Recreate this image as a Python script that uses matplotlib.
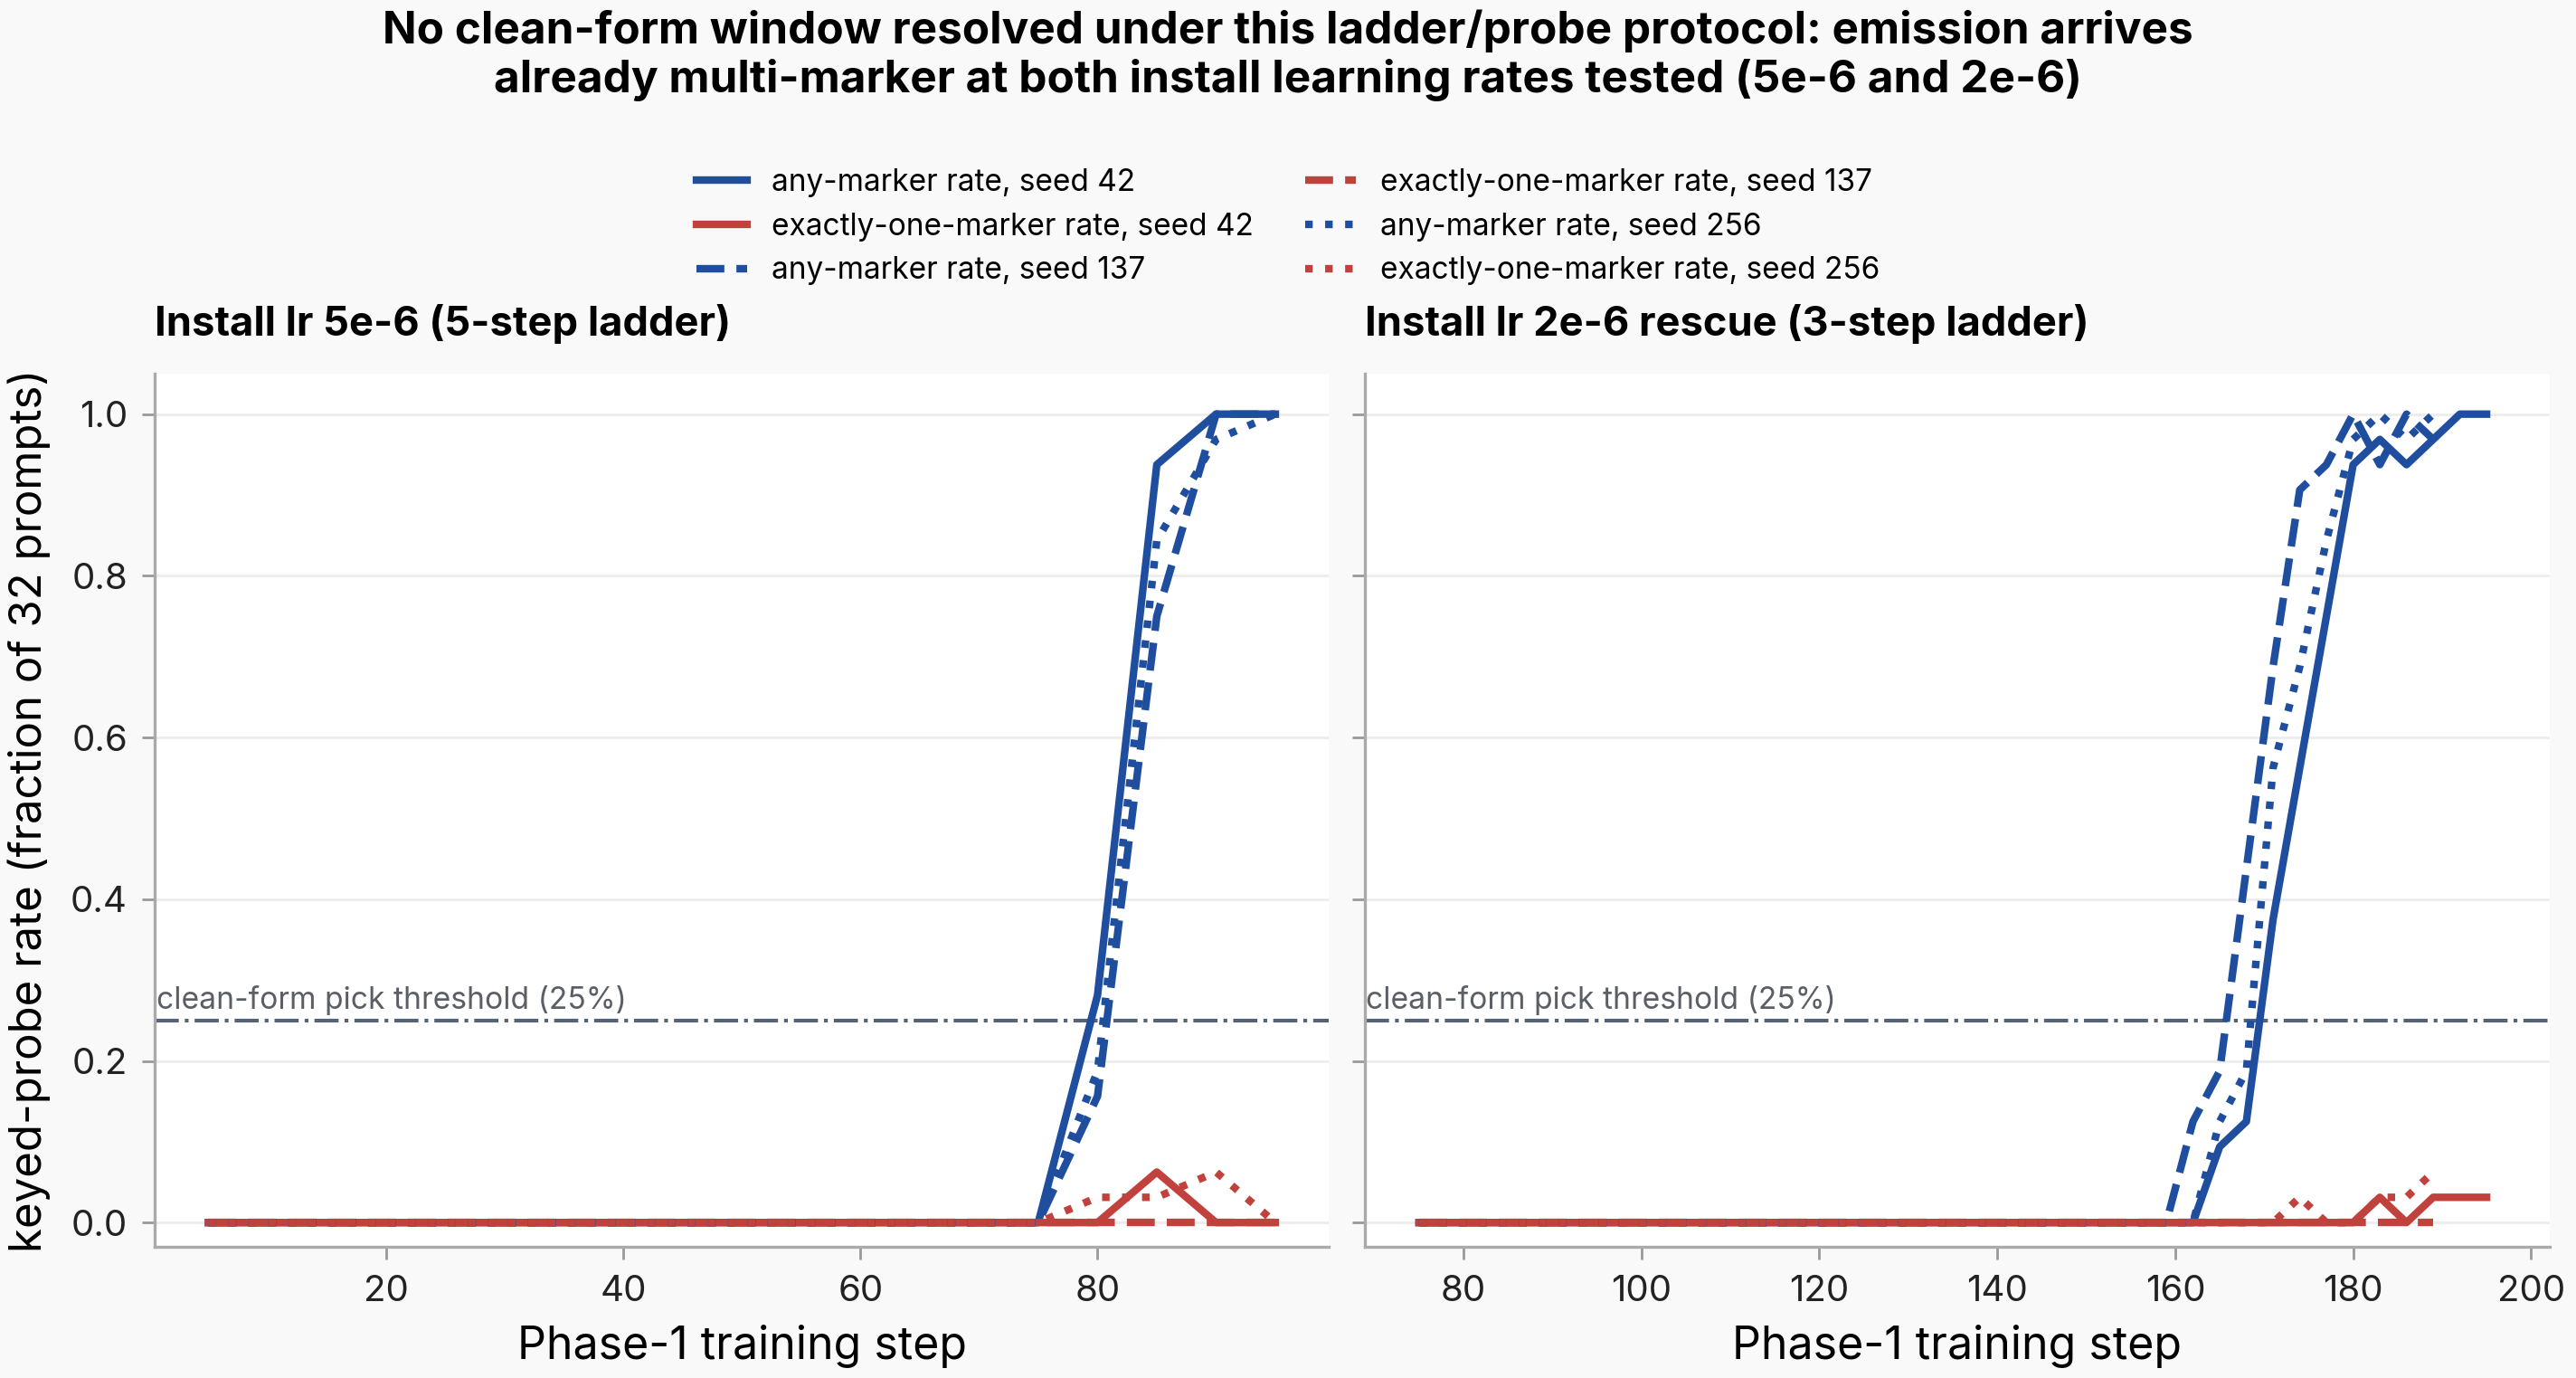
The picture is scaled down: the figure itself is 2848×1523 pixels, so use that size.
import matplotlib
matplotlib.use("Agg")
import matplotlib.pyplot as plt
from matplotlib.transforms import blended_transform_factory

plt.rcParams["font.family"] = ["Inter", "DejaVu Sans"]

# --- data (fraction of 32 keyed prompts) ---
steps_lr5 = [5, 10, 15, 20, 25, 30, 35, 40, 45, 50, 55, 60, 65, 70, 75, 80, 85, 90, 95]
any_42_lr5 = [0, 0, 0, 0, 0, 0, 0, 0, 0, 0, 0, 0, 0, 0, 0, 0.28125, 0.9375, 1.0, 1.0]
one_42_lr5 = [0, 0, 0, 0, 0, 0, 0, 0, 0, 0, 0, 0, 0, 0, 0, 0, 0.0625, 0, 0]
any_137_lr5 = [0, 0, 0, 0, 0, 0, 0, 0, 0, 0, 0, 0, 0, 0, 0, 0.15625, 0.75, 1.0, 1.0]
one_137_lr5 = [0, 0, 0, 0, 0, 0, 0, 0, 0, 0, 0, 0, 0, 0, 0, 0, 0, 0, 0]
any_256_lr5 = [0, 0, 0, 0, 0, 0, 0, 0, 0, 0, 0, 0, 0, 0, 0, 0.1875, 0.84375, 0.96875, 1.0]
one_256_lr5 = [0, 0, 0, 0, 0, 0, 0, 0, 0, 0, 0, 0, 0, 0, 0, 0.03125, 0.03125, 0.0625, 0]

steps_lr2 = [75, 78, 81, 84, 87, 90, 93, 96, 99, 102, 105, 108, 111, 114, 117, 120,
             123, 126, 129, 132, 135, 138, 141, 144, 147, 150, 153, 156, 159, 162,
             165, 168, 171, 174, 177, 180, 183, 186, 189, 192, 195]
# seeds 137 and 256 stop at step 189
steps_lr2_short = steps_lr2[:39]
any_42_lr2 = [0, 0, 0, 0, 0, 0, 0, 0, 0, 0, 0, 0, 0, 0, 0, 0, 0, 0, 0, 0, 0, 0, 0, 0,
              0, 0, 0, 0, 0, 0, 0.09375, 0.125, 0.375, 0.5625, 0.75, 0.9375, 0.96875,
              0.9375, 0.96875, 1.0, 1.0]
one_42_lr2 = [0, 0, 0, 0, 0, 0, 0, 0, 0, 0, 0, 0, 0, 0, 0, 0, 0, 0, 0, 0, 0, 0, 0, 0,
              0, 0, 0, 0, 0, 0, 0, 0, 0, 0, 0, 0, 0.03125, 0, 0.03125, 0.03125, 0.03125]
any_137_lr2 = [0, 0, 0, 0, 0, 0, 0, 0, 0, 0, 0, 0, 0, 0, 0, 0, 0, 0, 0, 0, 0, 0, 0, 0,
               0, 0, 0, 0, 0, 0.125, 0.1875, 0.4375, 0.6875, 0.90625, 0.9375, 1.0,
               0.9375, 1.0, 0.96875]
one_137_lr2 = [0, 0, 0, 0, 0, 0, 0, 0, 0, 0, 0, 0, 0, 0, 0, 0, 0, 0, 0, 0, 0, 0, 0, 0,
               0, 0, 0, 0, 0, 0, 0, 0, 0, 0, 0, 0, 0, 0, 0]
any_256_lr2 = [0, 0, 0, 0, 0, 0, 0, 0, 0, 0, 0, 0, 0, 0, 0, 0, 0, 0, 0, 0, 0, 0, 0, 0,
               0, 0, 0, 0, 0, 0, 0.125, 0.1875, 0.5625, 0.6875, 0.84375, 0.96875, 1.0,
               0.96875, 1.0]
one_256_lr2 = [0, 0, 0, 0, 0, 0, 0, 0, 0, 0, 0, 0, 0, 0, 0, 0, 0, 0, 0, 0, 0, 0, 0, 0,
               0, 0, 0, 0, 0, 0, 0, 0, 0, 0.03125, 0, 0, 0.03125, 0.03125, 0.0625]

seeds = [42, 137, 256]
styles = {42: "-", 137: "--", 256: ":"}
blue = "#1f4e9f"
red = "#c1413c"
threshold = 0.25

panels = [
    ("Install lr 5e-6 (5-step ladder)",
     {42: (steps_lr5, any_42_lr5, one_42_lr5),
      137: (steps_lr5, any_137_lr5, one_137_lr5),
      256: (steps_lr5, any_256_lr5, one_256_lr5)}),
    ("Install lr 2e-6 rescue (3-step ladder)",
     {42: (steps_lr2, any_42_lr2, one_42_lr2),
      137: (steps_lr2_short, any_137_lr2, one_137_lr2),
      256: (steps_lr2_short, any_256_lr2, one_256_lr2)}),
]

fig = plt.figure(figsize=(14.24, 7.615), dpi=200, facecolor="#f9f9f9")
ax1 = fig.add_axes([0.0602, 0.0952, 0.4556, 0.6336])
ax2 = fig.add_axes([0.5298, 0.0952, 0.4600, 0.6336], sharey=ax1)

for ax, (titulo, dados) in zip([ax1, ax2], panels):
    ax.set_facecolor("white")
    for s in seeds:
        x, y_any, y_one = dados[s]
        ax.plot(x, y_any, color=blue, ls=styles[s], lw=3,
                label=f"any-marker rate, seed {s}")
        ax.plot(x, y_one, color=red, ls=styles[s], lw=3,
                label=f"exactly-one-marker rate, seed {s}")
    ax.axhline(threshold, color="#566275", ls="-.", lw=1.5, zorder=1)
    trans = blended_transform_factory(ax.transAxes, ax.transData)
    ax.text(0.001, threshold + 0.006, "clean-form pick threshold (25%)",
            transform=trans, color="#5a5f66", fontsize=12.1, va="bottom")
    ax.set_title(titulo, loc="left", fontweight="bold", fontsize=16.3, pad=15)
    ax.set_xlabel("Phase-1 training step", fontsize=18, labelpad=6.5)
    ax.grid(axis="y", color="#ececec", lw=1)
    ax.set_axisbelow(True)
    for lado in ["top", "right"]:
        ax.spines[lado].set_visible(False)
    for lado in ["left", "bottom"]:
        ax.spines[lado].set_color("#aaaaaa")
        ax.spines[lado].set_linewidth(1.2)
    ax.tick_params(colors="#999999", labelcolor="#222222", labelsize=14.5,
                   length=5, width=1, pad=6)

ax1.set_ylim(-0.03, 1.05)
ax1.set_yticks([0.0, 0.2, 0.4, 0.6, 0.8, 1.0])
ax1.set_xticks([20, 40, 60, 80])
ax2.set_xticks([80, 100, 120, 140, 160, 180, 200])
ax2.set_xlim(68.9, 202.1)
ax2.tick_params(labelleft=False)
ax1.set_ylabel("keyed-probe rate (fraction of 32 prompts)", fontsize=17.7, labelpad=8)

handles, labels = ax1.get_legend_handles_labels()
fig.legend(handles, labels, loc="upper center", bbox_to_anchor=(0.5, 0.8975), ncol=2,
           frameon=False, fontsize=12, handlelength=1.7, columnspacing=1.7,
           labelspacing=0.5)

fig.text(0.5, 0.993,
         "No clean-form window resolved under this ladder/probe protocol: emission arrives\n"
         "already multi-marker at both install learning rates tested (5e-6 and 2e-6)",
         ha="center", va="top", fontsize=17.8, fontweight="bold", linespacing=1.18)

fig.savefig("out.png", dpi=200, facecolor=fig.get_facecolor())
